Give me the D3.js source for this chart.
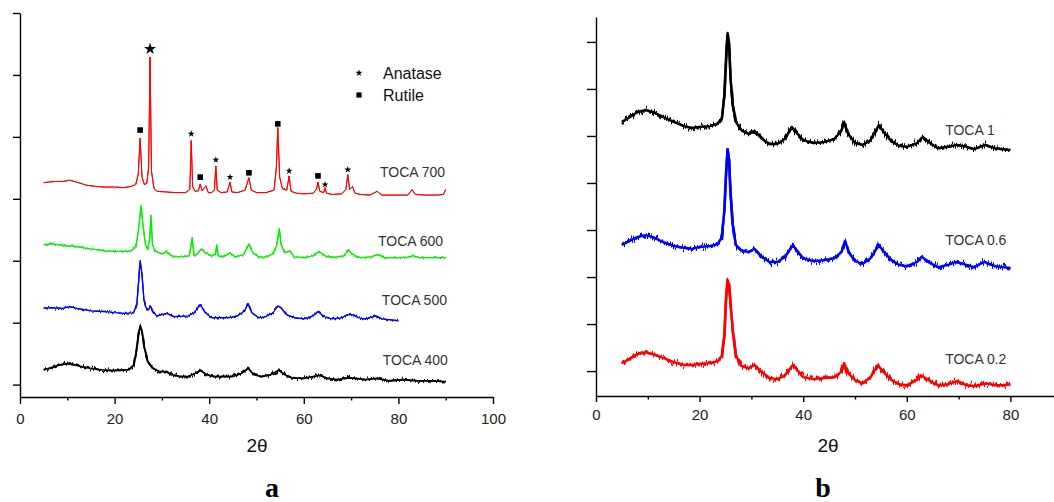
<!DOCTYPE html>
<html>
<head>
<meta charset="utf-8">
<script src="https://cdn.jsdelivr.net/npm/d3@7"></script>
<style>
  body { margin: 0; background: #fff; }
  svg { display: block; }
</style>
</head>
<body>
<svg id="chart" width="1054" height="502"></svg>
<script>
// ---------- XRD patterns (2θ in degrees, stacked intensity in a.u.) ----------

// Panel a: calcination temperature series
const toca700 = [
  [5,3.26],[6,3.27],[7.5,3.28],[9,3.28],[10.5,3.30],[12,3.27],[14,3.22],[16,3.20],[18,3.19],[20,3.19],
  [22,3.18],[23.5,3.20],[24.5,3.23],[25.0,3.40],[25.4,3.98],[25.8,3.35],[26.3,3.23],[26.8,3.25],[27.2,3.50],
  [27.5,5.29],[27.8,3.45],[28.3,3.17],[29,3.12],[31,3.11],[33,3.10],[35,3.10],[35.9,3.15],[36.2,3.94],
  [36.5,3.20],[37,3.12],[37.7,3.13],[38.1,3.24],[38.5,3.13],[39.3,3.21],[39.8,3.10],[40.5,3.10],[41.1,3.14],
  [41.4,3.53],[41.7,3.14],[42.5,3.10],[43.8,3.11],[44.4,3.27],[44.8,3.11],[46,3.10],[47.6,3.14],[48.4,3.34],
  [48.9,3.14],[50,3.10],[52,3.10],[53.7,3.14],[54.2,3.50],[54.5,4.15],[54.9,3.35],[55.5,3.16],[56.4,3.14],
  [56.9,3.37],[57.3,3.12],[58.5,3.09],[60,3.08],[62,3.09],[62.7,3.16],[63.0,3.27],[63.4,3.12],[64.2,3.10],
  [64.5,3.18],[64.8,3.09],[66,3.07],[68,3.08],[68.9,3.15],[69.3,3.39],[69.7,3.15],[70.3,3.20],[70.8,3.09],
  [72,3.07],[74,3.06],[75.5,3.12],[76.5,3.06],[79,3.06],[82,3.06],[82.9,3.15],[83.5,3.07],[86,3.06],
  [88,3.06],[89.5,3.07],[90,3.15]
];
const toca600 = [
  [5,2.26],[6.5,2.27],[8,2.26],[10,2.24],[12,2.23],[15,2.19],[18,2.16],[20,2.15],[22,2.15],[23.5,2.16],
  [24.5,2.23],[25.0,2.47],[25.6,2.89],[26.0,2.58],[26.5,2.27],[27.0,2.18],[27.4,2.34],[27.7,2.73],[28.0,2.26],
  [28.5,2.16],[30,2.11],[31,2.15],[32,2.08],[34,2.06],[35.8,2.08],[36.4,2.37],[36.8,2.08],[37.5,2.11],
  [38.3,2.19],[39.2,2.13],[40.5,2.08],[41.3,2.10],[41.6,2.26],[41.9,2.08],[43,2.06],[44.4,2.13],[45.5,2.06],
  [47.3,2.10],[48.4,2.27],[49.2,2.13],[50.5,2.06],[52,2.06],[53.5,2.11],[54.3,2.26],[54.8,2.52],[55.2,2.26],
  [56,2.13],[57.1,2.16],[58,2.06],[60,2.05],[62,2.08],[63.2,2.15],[64.5,2.08],[66,2.05],[68.5,2.08],
  [69.4,2.18],[70.3,2.10],[72,2.05],[74,2.06],[75.7,2.10],[77,2.05],[80,2.05],[82,2.06],[83.1,2.08],
  [84.5,2.05],[87,2.05],[90,2.05]
];
const toca500 = [
  [5,1.24],[7,1.24],[9,1.23],[10.5,1.26],[12,1.23],[15,1.19],[18,1.18],[20,1.16],[22,1.15],[24,1.16],
  [24.7,1.29],[25.1,1.69],[25.4,2.00],[25.8,1.77],[26.2,1.37],[26.7,1.23],[27.2,1.21],[27.6,1.27],[28.2,1.16],
  [29,1.11],[31,1.15],[32.5,1.10],[34,1.10],[35.5,1.11],[36.8,1.16],[38.1,1.29],[39.2,1.16],[40.5,1.08],
  [42,1.08],[44,1.08],[46,1.11],[47.5,1.19],[48.2,1.31],[49,1.16],[50.5,1.08],[52,1.10],[53.5,1.16],
  [54.5,1.27],[55.2,1.24],[56.3,1.13],[58,1.08],[60,1.06],[62,1.11],[63,1.18],[64.2,1.10],[66,1.06],
  [68,1.08],[69.3,1.13],[70.4,1.13],[71.5,1.08],[73,1.06],[75.3,1.11],[76.5,1.06],[78,1.05],[80,1.03]
];
const toca400 = [
  [5,0.24],[6.5,0.27],[8,0.31],[10,0.34],[11.5,0.32],[13,0.29],[15,0.26],[17,0.24],[19,0.23],[21,0.23],
  [23,0.24],[24,0.31],[24.6,0.53],[25.0,0.79],[25.4,0.95],[25.8,0.85],[26.3,0.60],[27,0.37],[28,0.27],
  [29.5,0.21],[31,0.21],[32,0.16],[34,0.13],[35.5,0.13],[37,0.18],[38.2,0.23],[39.5,0.16],[41,0.13],
  [43,0.13],[45,0.13],[46.8,0.18],[48.2,0.26],[49.5,0.16],[51,0.13],[53,0.16],[54.7,0.23],[56,0.16],
  [57.5,0.11],[60,0.10],[62,0.13],[63.2,0.15],[65,0.10],[67,0.08],[69.5,0.11],[71,0.10],[73,0.08],
  [75.5,0.10],[78,0.06],[81,0.08],[84,0.06],[87,0.06],[90,0.05]
];

// Phase markers on TOCA 700: [2θ, intensity]
const anatasePeaks = [[36.2,4.05],[41.4,3.63],[44.4,3.35],[56.9,3.45],[64.5,3.23],[69.3,3.47]];
const anataseMain = [[27.5,5.42]];
const rutilePeaks = [[25.4,4.11],[38.1,3.35],[48.4,3.42],[54.5,4.21],[63.0,3.37]];

// Panel b: composition series
const toca1 = [
  [5,5.30],[6.5,5.40],[8,5.51],[9.5,5.55],[11,5.51],[13,5.40],[15,5.30],[17,5.21],[18.5,5.17],[20,5.19],
  [22,5.21],[23.5,5.26],[24.3,5.38],[24.8,5.87],[25.1,6.62],[25.4,7.19],[25.7,6.94],[26.0,6.19],[26.4,5.66],
  [27,5.30],[28,5.13],[29.5,5.04],[30.6,5.11],[32,4.94],[33.5,4.83],[35,4.83],[36.5,4.94],[37.8,5.19],
  [38.8,5.06],[40,4.91],[42,4.85],[44,4.87],[46,4.94],[47.3,5.09],[47.9,5.30],[48.6,5.06],[50,4.85],
  [51.5,4.81],[53,4.91],[54.6,5.23],[55.5,5.09],[57,4.89],[58.5,4.79],[60,4.77],[62,4.85],[63.1,4.98],
  [64.5,4.85],[66,4.74],[68,4.77],[69.7,4.81],[71.5,4.77],[73,4.72],[75.1,4.81],[77,4.74],[78.5,4.72],[80,4.70]
];
const toca06 = [
  [5,2.68],[6.5,2.77],[8,2.85],[9.5,2.89],[11,2.85],[13,2.74],[15,2.66],[17,2.62],[18.5,2.60],[20,2.64],
  [22,2.66],[23.5,2.70],[24.3,2.85],[24.8,3.43],[25.1,4.17],[25.4,4.72],[25.7,4.49],[26.0,3.74],[26.4,3.11],
  [27,2.68],[28,2.57],[29.5,2.53],[30.6,2.60],[32,2.43],[33.5,2.32],[35,2.32],[36.5,2.43],[38.0,2.68],
  [39,2.53],[40,2.40],[42,2.34],[44,2.36],[46,2.40],[47.4,2.53],[48.1,2.77],[48.8,2.53],[50,2.34],
  [51.5,2.28],[53,2.40],[54.6,2.68],[55.5,2.55],[57,2.36],[58.5,2.26],[60,2.23],[62,2.32],[62.9,2.43],
  [64.5,2.30],[66,2.21],[68,2.26],[69.5,2.32],[71.5,2.26],[73,2.21],[74.9,2.32],[77,2.23],[78.5,2.21],[80,2.19]
];
const toca02 = [
  [5,0.17],[6.5,0.26],[8,0.36],[9.5,0.40],[11,0.36],[13,0.28],[15,0.19],[17,0.13],[18.5,0.13],[20,0.15],
  [22,0.17],[23.5,0.21],[24.3,0.32],[24.8,0.77],[25.1,1.51],[25.4,1.94],[25.7,1.83],[26.0,1.40],[26.4,0.87],
  [27,0.34],[28,0.11],[29.5,0.06],[30.6,0.13],[32,-0.02],[33.5,-0.15],[35,-0.17],[36.5,-0.09],[38.0,0.13],
  [39,0.00],[40,-0.13],[42,-0.17],[44,-0.15],[46,-0.13],[47.3,-0.02],[47.9,0.17],[48.6,-0.04],[50,-0.19],
  [51.5,-0.26],[53,-0.13],[54.4,0.13],[55.5,-0.02],[57,-0.19],[58.5,-0.28],[60,-0.30],[62,-0.19],[62.7,-0.09],
  [64.5,-0.21],[66,-0.30],[68,-0.28],[69.7,-0.21],[71.5,-0.30],[73,-0.32],[75.5,-0.26],[77,-0.30],[78.5,-0.30],[80,-0.28]
];

// Tick values
const xMajorA = [0, 20, 40, 60, 80, 100];
const xMinorA = [10, 30, 50, 70, 90];
const yTicksA = [0, 1, 2, 3, 4, 5, 6];
const xMajorB = [0, 20, 40, 60, 80];
const xMinorB = [10, 30, 50, 70];
const yTicksB = [0, 1, 2, 3, 4, 5, 6, 7];

// Series names and label anchors [2θ, intensity]
const seriesA = [
  { name: "TOCA 700", data: toca700, color: "#ff0000", base: 1.0, width: 1.0, grain: 1, label: [76.1, 3.35] },
  { name: "TOCA 600", data: toca600, color: "#00f000", base: 1.1, width: 1.3, grain: 3, label: [75.7, 2.23] },
  { name: "TOCA 500", data: toca500, color: "#0000ff", base: 1.2, width: 1.4, grain: 3, label: [76.5, 1.29] },
  { name: "TOCA 400", data: toca400, color: "#000000", base: 1.7, width: 1.9, grain: 4, label: [76.7, 0.31] }
];
const seriesB = [
  { name: "TOCA 1",   data: toca1,  color: "#000000", base: 2.4, width: 2.6, grain: 7, label: [67.4, 5.02] },
  { name: "TOCA 0.6", data: toca06, color: "#0000ff", base: 2.4, width: 2.6, grain: 7, label: [67.4, 2.68] },
  { name: "TOCA 0.2", data: toca02, color: "#ff0000", base: 2.4, width: 2.6, grain: 7, label: [67.4, 0.15] }
];

// ---------- drawing ----------
const svg = d3.select("#chart");
const SANS = "Arial, 'Liberation Sans', sans-serif";
const SERIF = "'Liberation Serif', 'Times New Roman', serif";

// Detector-noise texture: vertical-only displacement driven by fractal noise
const defs = svg.append("defs");
function grainFilter(id, amount) {
  const f = defs.append("filter").attr("id", id)
    .attr("filterUnits", "userSpaceOnUse")
    .attr("x", 0).attr("y", 0).attr("width", 1054).attr("height", 502)
    .attr("color-interpolation-filters", "sRGB");
  f.append("feTurbulence").attr("type", "fractalNoise")
    .attr("baseFrequency", "0.9 0.02").attr("numOctaves", 2).attr("seed", 3).attr("result", "n");
  f.append("feColorMatrix").attr("in", "n").attr("type", "matrix")
    .attr("values", "0 0 0 0 0.5  0 1 0 0 0  0 0 0 0 0  0 0 0 0 1").attr("result", "m");
  f.append("feDisplacementMap").attr("in", "SourceGraphic").attr("in2", "m")
    .attr("scale", amount).attr("xChannelSelector", "R").attr("yChannelSelector", "G");
}
[1, 3, 4, 7].forEach(a => grainFilter("grain" + a, a * 1.6));

function drawPanel(opts) {
  const { x, y, series, xMajor, xMinor, yTicks, labelPad } = opts;
  const g = svg.append("g");

  // y axis (ticks only, no labels)
  g.append("g")
    .attr("transform", `translate(${x.range()[0]},0)`)
    .call(d3.axisLeft(y).tickValues(yTicks).tickSize(opts.yTickLen).tickSizeOuter(0).tickFormat(""));

  // x axis: major ticks with labels, then minor ticks
  const xAxis = g.append("g")
    .attr("transform", `translate(0,${y.range()[0]})`)
    .call(d3.axisBottom(x).tickValues(xMajor).tickSize(opts.xTickLen).tickSizeOuter(0).tickPadding(labelPad));
  g.append("g")
    .attr("transform", `translate(0,${y.range()[0]})`)
    .call(d3.axisBottom(x).tickValues(xMinor).tickSize(3.5).tickSizeOuter(0).tickFormat(""))
    .select(".domain").remove();

  g.selectAll(".domain, .tick line").attr("stroke", "#000").attr("stroke-width", 1.4);
  xAxis.selectAll(".tick text").attr("font-size", 15).attr("fill", "#222")
    .style("font-family", SANS);

  const line = d3.line().x(d => x(d[0])).y(d => y(d[1]));
  const traces = g.selectAll("g.trace").data(series).join("g").attr("class", "trace");
  // underlying line keeps the pattern continuous
  traces.append("path")
    .attr("d", s => line(s.data))
    .attr("fill", "none")
    .attr("stroke", s => s.color)
    .attr("stroke-width", s => s.base)
    .attr("stroke-linejoin", "round");
  // noisy overlay
  traces.append("path")
    .attr("d", s => line(s.data))
    .attr("fill", "none")
    .attr("stroke", s => s.color)
    .attr("stroke-width", s => s.width)
    .attr("stroke-linejoin", "round")
    .attr("filter", s => `url(#grain${s.grain})`);

  g.selectAll("text.name").data(series).join("text")
    .attr("class", "name")
    .attr("x", s => x(s.label[0]))
    .attr("y", s => y(s.label[1]))
    .attr("font-size", 14)
    .attr("fill", "#333")
    .style("font-family", SANS)
    .text(s => s.name);

  // x axis title
  g.append("text")
    .attr("x", opts.titleX).attr("y", 452)
    .attr("text-anchor", "middle")
    .attr("font-size", 19).attr("fill", "#111")
    .style("font-family", SANS)
    .text("2θ");

  // panel letter
  g.append("text")
    .attr("x", opts.titleX + opts.letterShift).attr("y", 497)
    .attr("text-anchor", "middle")
    .style("font-family", SERIF)
    .attr("font-weight", "bold")
    .attr("font-size", 28).attr("fill", "#000")
    .text(opts.letter);

  return g;
}

// Panel a
const xA = d3.scaleLinear().domain([0, 100]).range([20, 493]);
const yA = d3.scaleLinear().domain([-0.2, 6]).range([397, 13]);
const gA = drawPanel({
  x: xA, y: yA, series: seriesA, xMajor: xMajorA, xMinor: xMinorA, yTicks: yTicksA,
  yTickLen: 7, xTickLen: 7, labelPad: 9, titleX: 257, letterShift: 15, letter: "a"
});

// Phase markers
gA.selectAll("path.anatase").data(anatasePeaks).join("path")
  .attr("class", "anatase")
  .attr("d", d3.symbol().type(d3.symbolStar).size(15)())
  .attr("transform", d => `translate(${xA(d[0])},${yA(d[1])})`)
  .attr("fill", "#000");
gA.selectAll("path.anataseMain").data(anataseMain).join("path")
  .attr("class", "anataseMain")
  .attr("d", d3.symbol().type(d3.symbolStar).size(45)())
  .attr("transform", d => `translate(${xA(d[0])},${yA(d[1])})`)
  .attr("fill", "#000");
gA.selectAll("rect.rutile").data(rutilePeaks).join("rect")
  .attr("class", "rutile")
  .attr("x", d => xA(d[0]) - 2.8).attr("y", d => yA(d[1]) - 2.8)
  .attr("width", 5.6).attr("height", 5.6)
  .attr("fill", "#000");

// Legend
const legend = gA.append("g").attr("transform", "translate(359,73)");
legend.append("path").attr("d", d3.symbol().type(d3.symbolStar).size(15)()).attr("fill", "#000");
legend.append("text").attr("x", 24).attr("y", 6).attr("font-size", 16).attr("fill", "#111")
  .style("font-family", SANS).text("Anatase");
legend.append("rect").attr("x", -2.6).attr("y", 22 - 2.6).attr("width", 5.2).attr("height", 5.2).attr("fill", "#000");
legend.append("text").attr("x", 24).attr("y", 28).attr("font-size", 16).attr("fill", "#111")
  .style("font-family", SANS).text("Rutile");

// Panel b
const xB = d3.scaleLinear().domain([0, 90]).range([596, 596 + 90 * 5.18]);
const yB = d3.scaleLinear().domain([-0.53, 7.53]).range([396, 17]);
drawPanel({
  x: xB, y: yB, series: seriesB, xMajor: xMajorB, xMinor: xMinorB, yTicks: yTicksB,
  yTickLen: 9, xTickLen: 6, labelPad: 7, titleX: 828, letterShift: -5, letter: "b"
});
</script>
</body>
</html>
